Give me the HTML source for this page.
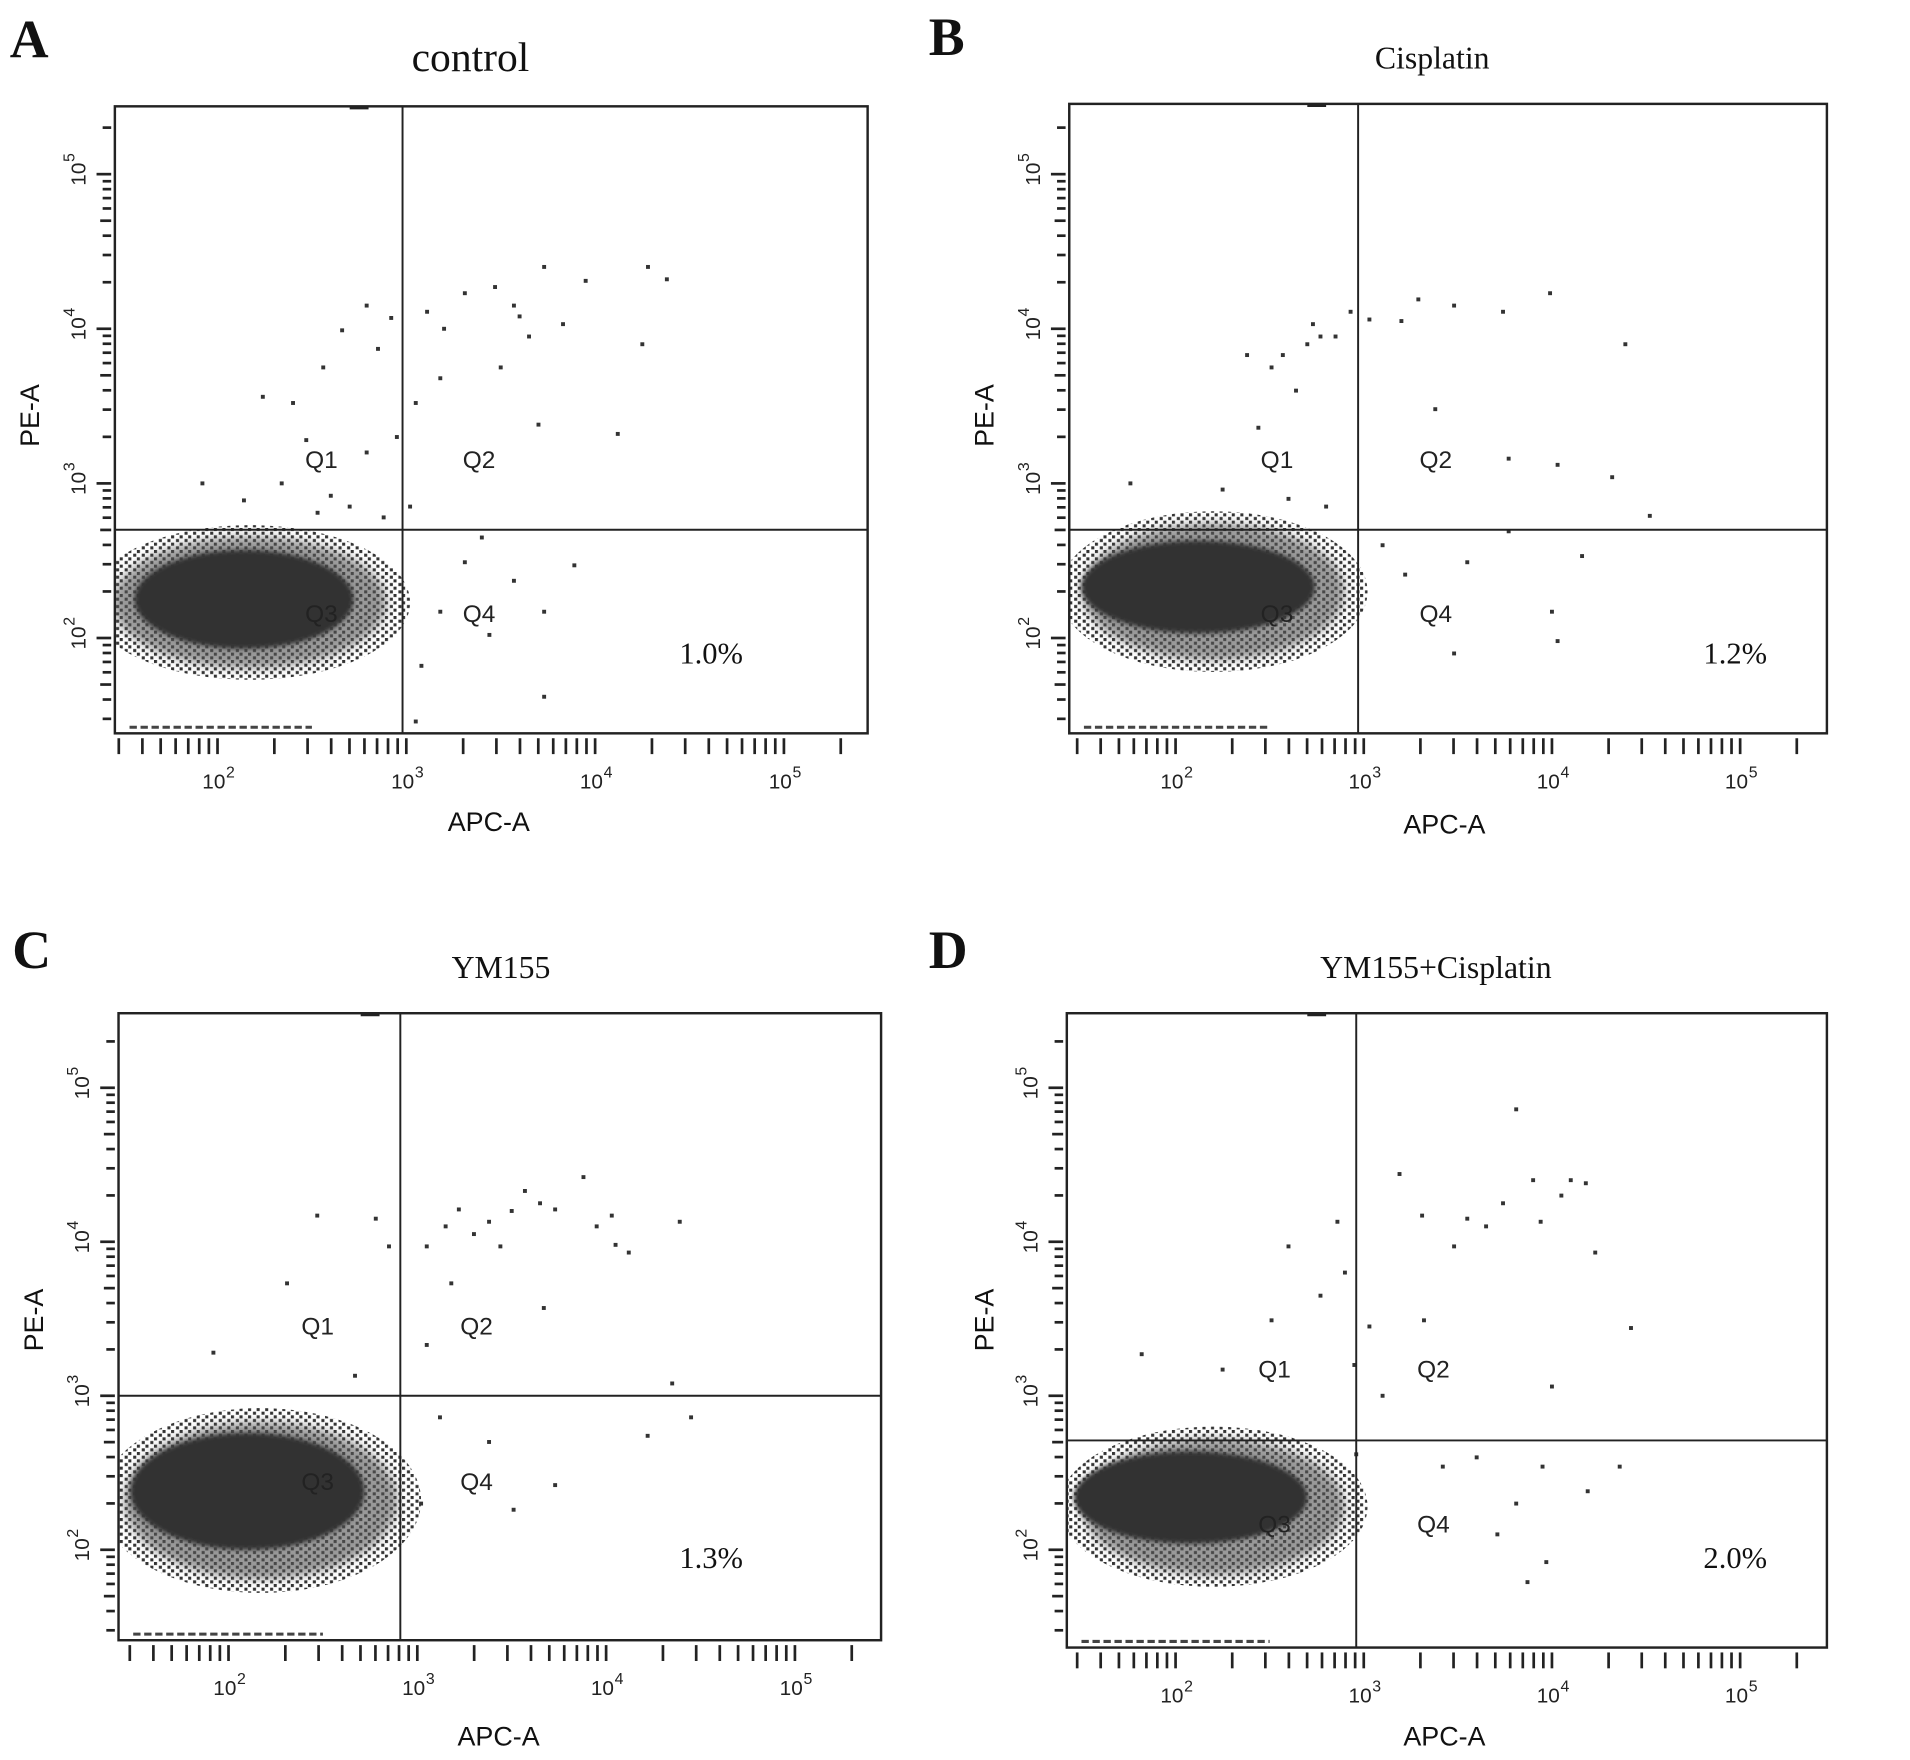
<!DOCTYPE html>
<html><head><meta charset="utf-8">
<style>
html,body{margin:0;padding:0;background:#fff;}
svg{display:block;}
.sans{font-family:"Liberation Sans",Arial,sans-serif;}
.serif{font-family:"Liberation Serif","Times New Roman",serif;}
</style></head>
<body>
<svg id="fig" width="1910" height="1760" viewBox="0 0 1563 1440" preserveAspectRatio="none" xmlns="http://www.w3.org/2000/svg">
<defs>
<filter id="soft" x="-30%" y="-30%" width="160%" height="160%"><feGaussianBlur stdDeviation="4"/></filter>
<filter id="soft2" x="-30%" y="-30%" width="160%" height="160%"><feGaussianBlur stdDeviation="2"/></filter>
<pattern id="speck" width="7" height="6" patternUnits="userSpaceOnUse">
<rect x="0" y="0" width="2.5" height="2.5" fill="#333"/>
<rect x="4" y="3" width="2.5" height="2.5" fill="#333"/>
</pattern>
</defs>
</svg>
<script>
// ---- data (log10 units) ----
const panelKeys = ["A","B","C","D"];
const panelTitles = ["control","Cisplatin","YM155","YM155+Cisplatin"];
const percentLabels = ["1.0%","1.2%","1.3%","2.0%"];
const gateX = [2.98, 2.97, 2.91, 2.96];
const gateY = [2.70, 2.70, 3.00, 2.71];
// dense population: [centerX, centerY, radiusX, radiusY] in decades
const coreBlobs = [[2.14,2.25,0.58,0.32],[2.12,2.33,0.62,0.30],[2.10,2.38,0.62,0.38],[2.08,2.34,0.62,0.30]];
const haloBlobs = [[2.17,2.23,0.85,0.50],[2.20,2.30,0.82,0.52],[2.17,2.32,0.85,0.60],[2.20,2.28,0.82,0.52]];
const pointsA = [[2.79,4.15],[2.56,3.75],[2.40,3.52],[2.24,3.56],[2.66,3.99],[2.85,3.87],[2.92,4.07],[3.11,4.11],[3.31,4.23],[3.47,4.27],[3.57,4.15],[3.73,4.40],[3.83,4.03],[3.95,4.31],[4.28,4.40],[4.38,4.32],[4.25,3.90],[4.12,3.32],[3.70,3.38],[3.50,3.75],[3.18,3.68],[3.05,3.52],[2.47,3.28],[2.34,3.00],[2.79,3.20],[2.14,2.89],[2.53,2.81],[1.92,3.00],[3.40,2.65],[3.57,2.37],[3.89,2.47],[3.73,2.17],[3.18,2.17],[3.08,1.82],[3.73,1.62],[3.05,1.46],[3.31,2.49],[3.44,2.02],[2.70,2.85],[2.88,2.78],[2.60,2.92],[3.02,2.85],[2.95,3.30],[3.20,4.00],[3.60,4.08],[3.65,3.95]];
const pointsB = [[2.57,3.83],[2.73,4.03],[2.64,3.60],[2.77,3.95],[2.51,3.75],[2.38,3.83],[2.93,4.11],[3.03,4.06],[3.29,4.19],[3.48,4.15],[3.74,4.11],[3.99,4.23],[4.39,3.90],[3.38,3.48],[3.77,3.16],[4.03,3.12],[4.32,3.04],[4.52,2.79],[3.77,2.69],[3.55,2.49],[4.00,2.17],[4.03,1.98],[3.48,1.90],[3.22,2.41],[4.16,2.53],[2.44,3.36],[1.76,3.00],[2.25,2.96],[2.70,3.90],[2.85,3.95],[3.20,4.05],[2.60,2.90],[2.80,2.85],[3.10,2.60]];
const pointsC = [[2.47,4.17],[2.31,3.73],[2.78,4.15],[2.85,3.97],[3.05,3.97],[3.22,4.21],[3.38,4.13],[3.57,4.33],[3.73,4.21],[3.88,4.42],[4.03,4.17],[4.12,3.93],[4.39,4.13],[3.44,3.97],[3.18,3.73],[3.67,3.57],[3.05,3.33],[1.92,3.28],[2.67,3.13],[4.35,3.08],[4.45,2.86],[4.22,2.74],[3.73,2.42],[3.51,2.26],[3.38,2.70],[3.12,2.86],[3.02,2.30],[3.30,4.05],[3.50,4.20],[3.65,4.25],[3.95,4.10],[4.05,3.98],[3.15,4.10]];
const pointsD = [[3.81,4.86],[3.19,4.44],[3.31,4.17],[3.48,3.97],[3.74,4.25],[3.94,4.13],[4.10,4.40],[4.18,4.38],[4.23,3.93],[3.90,4.40],[2.86,4.13],[2.60,3.97],[2.77,3.65],[2.51,3.49],[2.25,3.17],[1.82,3.27],[3.03,3.45],[3.32,3.49],[4.42,3.44],[4.00,3.06],[3.95,2.54],[4.19,2.38],[4.36,2.54],[3.81,2.30],[3.97,1.92],[3.87,1.79],[3.71,2.10],[3.42,2.54],[2.96,2.62],[3.55,4.15],[3.65,4.10],[4.05,4.30],[2.90,3.80],[2.95,3.20],[3.10,3.00],[3.60,2.60]];
const allPoints = [pointsA, pointsB, pointsC, pointsD];
const xTickDecades = [2,3,4,5];
const yTickDecades = [2,3,4,5];

// ---- layout ----
const layouts = [
 {box:[94,87,710,600], x2:178, dx:154.5, y2:522, dy:126.5, letter:[8,47], title:[385,58,34], xTitle:[400,680], yTitle:[32,340], pct:[582,543], q:[[263,376],[392,376],[263,502],[392,502]]},
 {box:[875,85,1495,600], x2:962, dx:154, y2:522, dy:126.5, letter:[760,45], title:[1172,56,26], xTitle:[1182,682], yTitle:[813,340], pct:[1420,543], q:[[1045,376],[1175,376],[1045,502],[1175,502]]},
 {box:[97,829,721,1342], x2:187, dx:154.5, y2:1268, dy:126, letter:[10,792], title:[410,800,26], xTitle:[408,1428], yTitle:[35,1080], pct:[582,1283], q:[[260,1085],[390,1085],[260,1212],[390,1212]]},
 {box:[873,829,1495,1348], x2:962, dx:154, y2:1268, dy:126, letter:[760,792], title:[1175,800,26], xTitle:[1182,1428], yTitle:[813,1080], pct:[1420,1283], q:[[1043,1120],[1173,1120],[1043,1247],[1173,1247]]}
];
const NS="http://www.w3.org/2000/svg";
const svg=document.getElementById('fig');
function mk(tag,attrs,parent){const e=document.createElementNS(NS,tag);for(const k in attrs)e.setAttribute(k,attrs[k]);(parent||svg).appendChild(e);return e;}

layouts.forEach((L,i)=>{
 const [l,t,r,b]=L.box;
 const xs=v=>L.x2+(v-2)*L.dx;
 const ys=v=>L.y2-(v-2)*L.dy;
 const g=mk('g',{});
 
 
 const clipId='clip'+i;
 const cp=mk('clipPath',{id:clipId},g);
 mk('rect',{x:l,y:t,width:r-l,height:b-t},cp);

 const letter=mk('text',{x:L.letter[0],y:L.letter[1],class:'serif','font-size':44,'font-weight':'bold',fill:'#111'},g);
 letter.textContent=panelKeys[i];
 
 
 const title=mk('text',{x:L.title[0],y:L.title[1],class:'serif','font-size':L.title[2],'text-anchor':'middle',fill:'#111'},g);
 title.textContent=panelTitles[i];
 
 

 // population
 const pop=mk('g',{'clip-path':'url(#'+clipId+')'},g);
 
 
 const h=haloBlobs[i], c=coreBlobs[i];
 const halo=mk('ellipse',{cx:xs(h[0]),cy:ys(h[1]),rx:h[2]*L.dx,ry:h[3]*L.dy,fill:'url(#speck)'},pop);
 
 
 const halo2=mk('ellipse',{cx:xs(h[0]),cy:ys(h[1]),rx:h[2]*L.dx*0.85,ry:h[3]*L.dy*0.85,fill:'#555','fill-opacity':0.6,filter:'url(#soft)'},pop);
 
 
 const core=mk('ellipse',{cx:xs(c[0]),cy:ys(c[1]),rx:c[2]*L.dx,ry:c[3]*L.dy,fill:'#333',filter:'url(#soft2)'},pop);
 
 
 const floor=mk('line',{x1:l+12,x2:xs(2.5),y1:b-5,y2:b-5,stroke:'#444','stroke-width':2.5,'stroke-dasharray':'6 3'},pop);
 
 
 allPoints[i].forEach(p=>{
  const d=mk('rect',{x:xs(p[0])-1.6,y:ys(p[1])-1.6,width:3.2,height:3.2,fill:'#333'},pop);
  
  
 });

 // box
 const bx=mk('rect',{x:l,y:t,width:r-l,height:b-t,fill:'none',stroke:'#222','stroke-width':2},g);
 
 
 // gates
 const gv=mk('line',{x1:xs(gateX[i]),x2:xs(gateX[i]),y1:t,y2:b,stroke:'#222','stroke-width':1.6},g);
 
 
 const gh=mk('line',{x1:l,x2:r,y1:ys(gateY[i]),y2:ys(gateY[i]),stroke:'#222','stroke-width':1.6},g);
 
 
 // quadrant labels
 ['Q1','Q2','Q3','Q4'].forEach((q,k)=>{
  const tx=mk('text',{x:L.q[k][0],y:L.q[k][1]+7,class:'sans','font-size':20,'text-anchor':'middle',fill:'#222'},g);
  tx.textContent=q;
  
  
 });
 const pc=mk('text',{x:L.pct[0],y:L.pct[1],class:'serif','font-size':25,'text-anchor':'middle',fill:'#111'},g);
 pc.textContent=percentLabels[i];
 
 

 // x ticks
 const xmin=2+(l-L.x2)/L.dx, xmax=2+(r-L.x2)/L.dx;
 for(let d=1;d<=5;d++)for(let m=1;m<=9;m++){
  const v=d+Math.log10(m); if(v<xmin+0.02||v>xmax-0.02)continue;
  const tk=mk('line',{x1:xs(v),x2:xs(v),y1:b+4,y2:b+17,stroke:'#222','stroke-width':2.2},g);
  
  
 }
 xTickDecades.forEach(d=>{
  const tx=mk('text',{x:xs(d)-3,y:b+45,class:'sans','font-size':17,'text-anchor':'middle',fill:'#222'},g);
  tx.textContent='10';
  
  
  const sp=mk('text',{x:xs(d)+7,y:b+36,class:'sans','font-size':13,fill:'#222'},g);
  sp.textContent=String(d);
  
  
 });
 // y ticks
 const ymin=2-(b-L.y2)/L.dy, ymax=2+(L.y2-t)/L.dy;
 for(let d=1;d<=5;d++)for(let m=1;m<=9;m++){
  const v=d+Math.log10(m); if(v<ymin+0.02||v>ymax-0.02)continue;
  const len=m===1?12:(m===5?9:7);
  const tk=mk('line',{x1:l-3-len,x2:l-3,y1:ys(v),y2:ys(v),stroke:'#222','stroke-width':2.2},g);
  
  
 }
 yTickDecades.forEach(d=>{
  const gx=l-30, gy=ys(d);
  const tx=mk('text',{x:gx,y:gy+6,class:'sans','font-size':17,'text-anchor':'middle',fill:'#222',transform:`rotate(-90 ${gx} ${gy})`},g);
  tx.textContent='10';
  
  
  const sp=mk('text',{x:gx+10,y:gy-3,class:'sans','font-size':13,fill:'#222',transform:`rotate(-90 ${gx} ${gy})`},g);
  sp.textContent=String(d);
  
  
 });
 // axis titles
 const xt=mk('text',{x:L.xTitle[0],y:L.xTitle[1],class:'sans','font-size':22,'text-anchor':'middle',fill:'#111'},g);
 xt.textContent='APC-A';
 
 
 const yt=mk('text',{x:L.yTitle[0],y:L.yTitle[1],class:'sans','font-size':22,'text-anchor':'middle',fill:'#111',transform:`rotate(-90 ${L.yTitle[0]} ${L.yTitle[1]})`},g);
 yt.textContent='PE-A';
 
 
 // small marks on top
 const tm=mk('line',{x1:xs(2.7),x2:xs(2.8),y1:t+1,y2:t+1,stroke:'#222','stroke-width':3},g);
 
 
});
</script>
</body></html>
